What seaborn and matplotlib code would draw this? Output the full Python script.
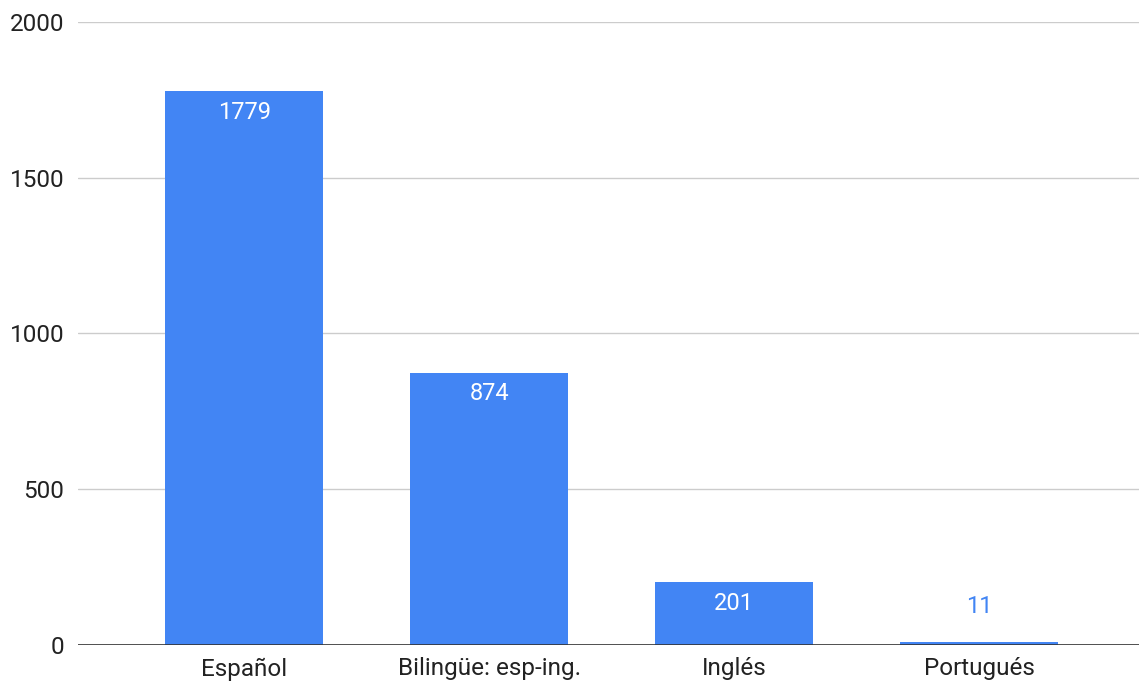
import matplotlib
matplotlib.use("Agg")
import matplotlib.pyplot as plt
import seaborn as sns
import pandas as pd

# Datos del gráfico
idiomas = ["Español", "Bilingüe: esp-ing.", "Inglés", "Portugués"]
cantidades = [1779, 874, 201, 11]
y_ticks = [0, 500, 1000, 1500, 2000]

bar_color = "#4285F4"

sns.set_theme(style="white")
plt.rcParams["font.family"] = ["Roboto", "DejaVu Sans"]

df = pd.DataFrame({"idioma": idiomas, "cantidad": cantidades})

fig = plt.figure(figsize=(11.39, 6.82), dpi=100)
ax = fig.add_axes([0.0685, 0.0543, 0.9315, 0.9134])

sns.barplot(data=df, x="idioma", y="cantidad", color=bar_color,
            saturation=1, width=0.645, ax=ax, zorder=3, linewidth=0)

ax.set_xlim(-0.678, 3.653)
ax.set_ylim(0, 2000)
ax.set_yticks(y_ticks)
ax.set_yticklabels([str(v) for v in y_ticks], fontsize=17.5, color="#222222")
ax.tick_params(axis="x", labelsize=17.5, labelcolor="#222222", length=0, pad=9)
ax.tick_params(axis="y", length=0, pad=10)
ax.set_xlabel("")
ax.set_ylabel("")

# Cuadrícula horizontal
ax.grid(axis="y", color="#cccccc", linewidth=1, zorder=0)
ax.axhline(0, color="#333333", linewidth=1.2, zorder=4)
for s in ax.spines.values():
    s.set_visible(False)

# Etiquetas de valores
for patch, val in zip(ax.patches, cantidades):
    cx = patch.get_x() + patch.get_width() / 2
    top = patch.get_height()
    if val > 100:
        ax.annotate(str(val), (cx, top), xytext=(0, -7), textcoords="offset points",
                    ha="center", va="top", color="white", fontsize=17, zorder=5)
    else:
        ax.annotate(str(val), (cx, top), xytext=(0, 17), textcoords="offset points",
                    ha="center", va="bottom", color=bar_color, fontsize=17, zorder=5)

fig.savefig("out.png", dpi=100)
